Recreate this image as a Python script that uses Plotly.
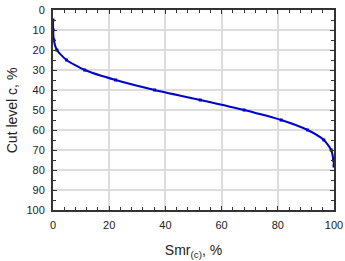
import plotly.graph_objects as go

smr = [0.0, 0.05, 0.3, 1.4, 4.8, 11.3, 22.3, 36.2, 52.4, 68.0, 81.2, 90.6, 96.4, 99.0, 99.8, 100.0]
cut = [5, 10, 15, 20, 25, 30, 35, 40, 45, 50, 55, 60, 65, 70, 75, 78]
x_ticks = [0, 20, 40, 60, 80, 100]
y_ticks = [0, 10, 20, 30, 40, 50, 60, 70, 80, 90, 100]

FONT = "Liberation Sans, Arial"

fig = go.Figure()
fig.add_trace(go.Scatter(
    x=smr, y=cut, mode="lines+markers",
    line=dict(color="#0000CC", width=2, shape="spline", smoothing=0.6),
    marker=dict(symbol="square", size=3, color="#0000CC"),
    showlegend=False, cliponaxis=False,
))

axis_common = dict(
    showline=True, linecolor="#333333", linewidth=2, mirror="allticks",
    ticks="inside", ticklen=4, tickcolor="#333333", tickwidth=1,
    showgrid=True, gridcolor="#dddddd", gridwidth=1.5, zeroline=False,
    tickfont=dict(family=FONT, size=11, color="#222222"),
    automargin=False,
)

fig.update_xaxes(
    range=[0, 100], tickvals=x_ticks,
    minor=dict(dtick=4, ticks="inside", ticklen=3, tickcolor="#333333", showgrid=False),
    ticklabelstandoff=4,
    title=dict(text="Smr<sub>(c)</sub>, %", font=dict(family=FONT, size=14, color="#222222")),
    **axis_common,
)
fig.update_yaxes(
    range=[100, 0], tickvals=y_ticks,
    minor=dict(dtick=5, ticks="inside", ticklen=3, tickcolor="#333333", showgrid=False),
    ticklabelstandoff=4,
    **axis_common,
)

fig.add_annotation(
    text="Cut level c, %", textangle=-90, showarrow=False,
    xref="paper", yref="paper", x=-0.145, y=0.5, xanchor="center", yanchor="middle",
    font=dict(family=FONT, size=14, color="#222222"),
)

fig.update_layout(
    width=345, height=261,
    margin=dict(l=53, r=11, t=10, b=51),
    plot_bgcolor="white", paper_bgcolor="white",
)

fig.write_html(
    "out.html",
    config={"displayModeBar": False},
    post_script="document.body.style.margin='0';document.body.style.overflow='hidden';",
)
